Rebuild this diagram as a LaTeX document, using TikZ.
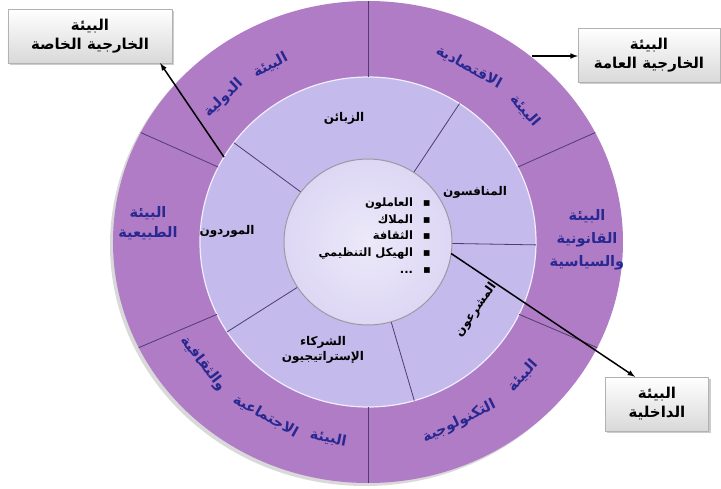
\documentclass[tikz,border=0pt]{standalone}
\usepackage{fontspec}
\newfontfamily\arabicfont[Script=Arabic, BoldFont={DejaVu Sans Bold}]{DejaVu Sans}
\TeXXeTstate=1
\usetikzlibrary{arrows,shadows}

\newcommand{\artxt}[1]{\beginR #1\endR}

\definecolor{ringout}{RGB}{176,124,198}
\definecolor{ringmid}{RGB}{196,186,236}
\definecolor{ringin}{RGB}{221,215,244}
\definecolor{envtext}{RGB}{40,40,145}
\definecolor{divline}{RGB}{80,60,110}

\tikzset{
  envbox/.style={draw=gray!60, rectangle, top color=white, bottom color=gray!30,
    drop shadow={opacity=0.4, shadow xshift=2pt, shadow yshift=-2pt},
    minimum height=54pt, align=center,
    font=\arabicfont\bfseries\fontsize{15}{19}\selectfont},
  outerlbl/.style={text=envtext, inner sep=0pt,
    font=\arabicfont\bfseries\fontsize{14.5}{23}\selectfont, align=center},
  midlbl/.style={text=black, align=center,
    font=\arabicfont\bfseries\fontsize{12}{15}\selectfont},
}

\begin{document}
\begin{tikzpicture}[x=1pt,y=1pt]
\useasboundingbox (-368,-246) rectangle (353,242);

% the three rings
\fill[ringout, drop shadow={opacity=0.3, shadow xshift=-3pt, shadow yshift=-3pt}]
  (0,0) ellipse [x radius=255pt, y radius=241pt];
\fill[ringmid, draw=white!75!ringmid, line width=1.2pt]
  (0,0) ellipse [x radius=168pt, y radius=165pt];
\foreach \a in {90,27,-26,-90,-154,153}
  \draw[divline, line width=0.8pt] ({168*cos(\a)},{165*sin(\a)}) -- ({255*cos(\a)},{241*sin(\a)});
\foreach \a in {143,57,-1,-74,-147}
  \draw[divline, line width=0.8pt] ({84*cos(\a)},{83*sin(\a)}) -- ({168*cos(\a)},{165*sin(\a)});
\shade[inner color=ringin!55!white, outer color=ringin, draw=gray!70!ringin, line width=1pt]
  (0,0) ellipse [x radius=84pt, y radius=83pt];

% outer ring words along the arc
\foreach \t/\r/\w [count=\i] in {41/-49/البيئة, 61/-29/الاقتصادية,
    118/28/البيئة, 134/44/الدولية,
    -42/48/البيئة, -64/26/التكنولوجية,
    -101/-11/البيئة, -119.5/-29.5/الاجتماعية, -142.5/-52.5/والثقافية}
  \node[outerlbl, rotate=\r] (w\i) at ({208*cos(\t)},{200*sin(\t)}) {\artxt{\w}};
\node[outerlbl] (legal) at (219,2) {\artxt{البيئة}\\\artxt{القانونية}\\\artxt{والسياسية}};
\node[outerlbl, font=\arabicfont\bfseries\fontsize{14.5}{20}\selectfont] (natural) at (-220,19)
  {\artxt{البيئة}\\\artxt{الطبيعية}};

% middle ring
\node[midlbl] (cust) at (-24,124) {\artxt{الزبائن}};
\node[midlbl] (comp) at (107,50) {\artxt{المنافسون}};
\node[midlbl, rotate=55] (legis) at (108,-68) {\artxt{المشرعون}};
\node[midlbl] (partn) at (-45,-108) {\artxt{الشركاء}\\\artxt{الإستراتيجيون}};
\node[midlbl] (suppl) at (-141,11) {\artxt{الموردون}};

% inner circle
\node[anchor=east, align=right, inner sep=0pt,
  font=\arabicfont\bfseries\fontsize{11.5}{16.7}\selectfont] (inside) at (63,6.5)
  {\artxt{العاملون}\hspace{10pt}▪\\\artxt{الملاك}\hspace{10pt}▪\\
   \artxt{الثقافة}\hspace{10pt}▪\\\artxt{الهيكل التنظيمي}\hspace{10pt}▪\\
   ...\hspace{10pt}▪};

% boxes
\node[envbox, minimum width=164pt] (extPriv) at (-278,206) {\artxt{البيئة}\\\artxt{الخارجية الخاصة}};
\node[envbox, minimum width=142pt] (extGen) at (281,187) {\artxt{البيئة}\\\artxt{الخارجية العامة}};
\node[envbox, minimum width=103pt] (intEnv) at (289,-162) {\artxt{البيئة}\\\artxt{الداخلية}};

\coordinate (pPriv) at ({168*cos(149)},{165*sin(149)});
\coordinate (pGen) at (164,186);
\coordinate (pInt) at ({84*cos(-8)},{83*sin(-8)});

\draw[arrows={-latex}, line width=1.5pt] (pPriv) -- ([xshift=-12pt]extPriv.south east);
\draw[arrows={-latex}, line width=1.5pt] (pGen) -- (pGen -| extGen.west);
\draw[arrows={-latex}, line width=1.5pt] (pInt) -- ([xshift=-22pt]intEnv.north);
\end{tikzpicture}
\end{document}
